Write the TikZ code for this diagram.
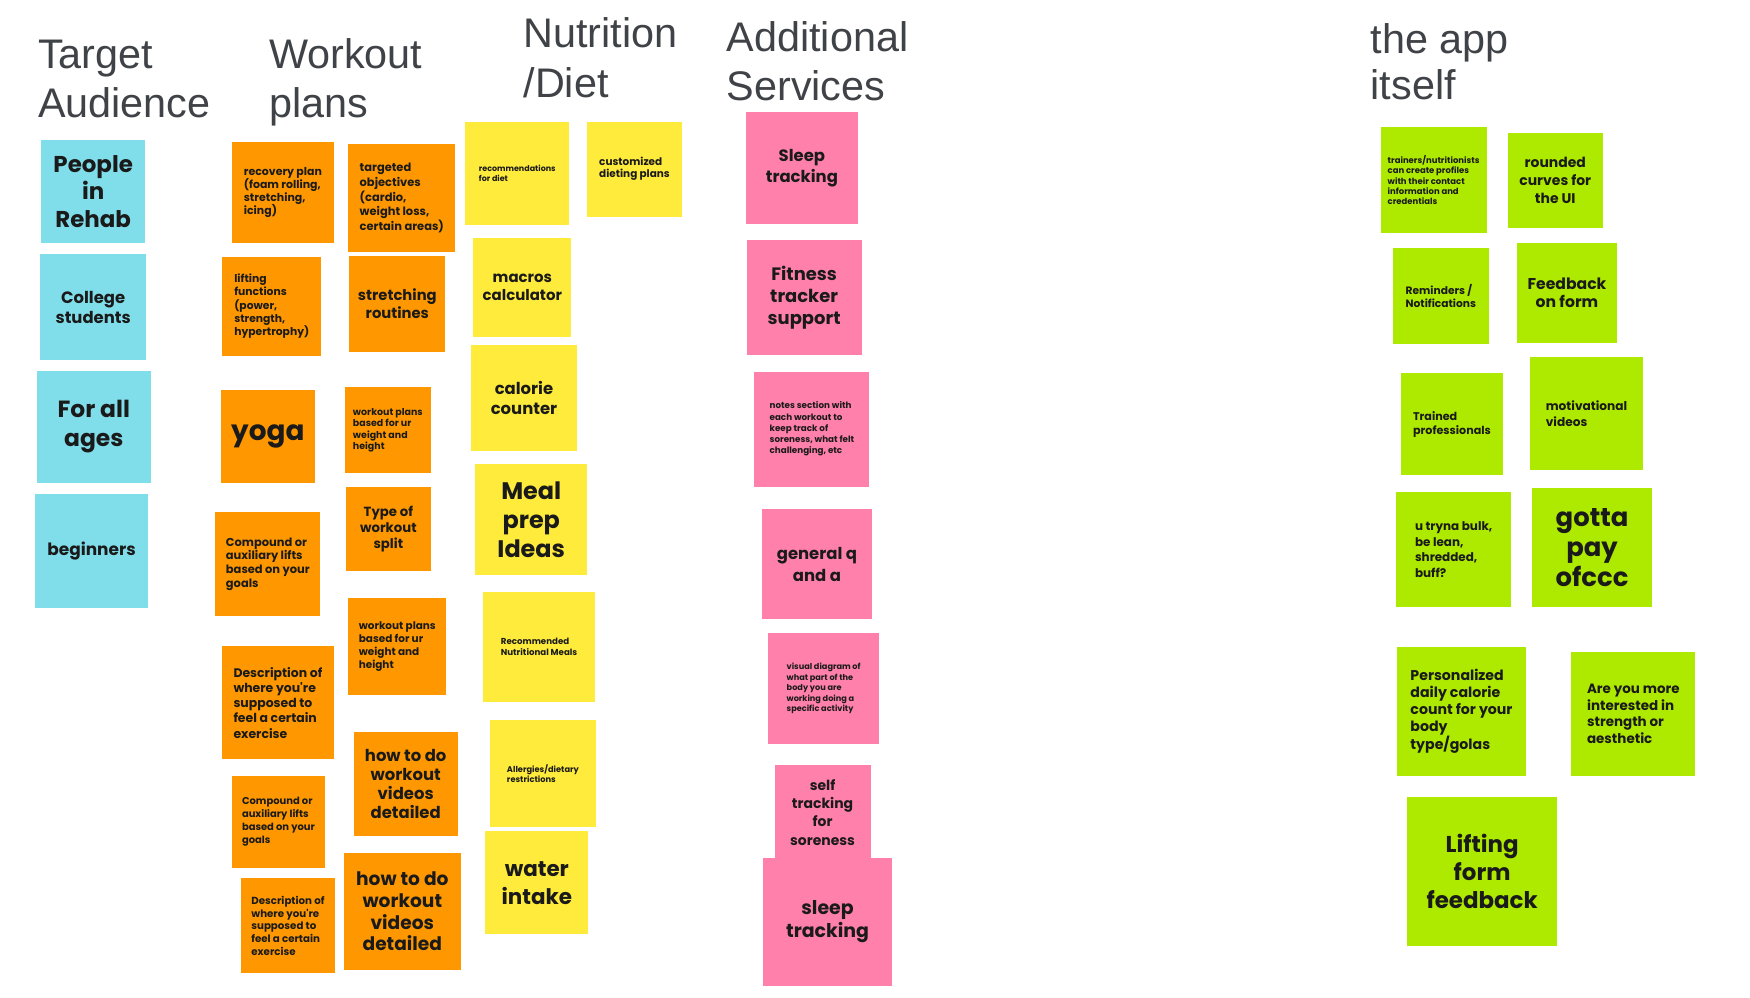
\documentclass[tikz,border=0pt]{standalone}
\usepackage{fontspec}
\setmainfont{Liberation Sans}
\newfontfamily\stf{Poppins}
\usetikzlibrary{fit}
\definecolor{cy}{HTML}{80DEEA}
\definecolor{orn}{HTML}{FF9800}
\definecolor{yel}{HTML}{FFEB3B}
\definecolor{pnk}{HTML}{FF80AB}
\definecolor{lim}{HTML}{AEEA00}
\definecolor{hdr}{HTML}{3F4246}
\definecolor{txt}{HTML}{1A1A1A}
\tikzset{
  stk/.style={inner sep=0pt, outer sep=0pt},
  stktxt/.style={inner sep=0pt, outer sep=0pt, text=txt, anchor=center},
  hd/.style={anchor=base west, inner sep=0pt, text=hdr, font=\fontsize{41.5}{48}\selectfont}
}
\newcommand\stk[8]{%
  \node[stk,fill=#2,fit={(#3) (#4)}] (#1) {};
  \node[stktxt,font={\stf\bfseries\fontsize{#5}{#6}\selectfont},align=#7] (#1-t) at (#1.center) {#8};}
\begin{document}
\begin{tikzpicture}[x=1.11607bp,y=-1.11607bp]
\useasboundingbox (0,0) rectangle (1568,894);
\fill[white] (0,0) rectangle (1568,894);
% headers
\node[hd] (hA1) at (34,61) {Target};
\node[hd] (hA2) at (34,105) {Audience};
\node[hd] (hW1) at (241,61) {Workout};
\node[hd] (hW2) at (241,105) {plans};
\node[hd] (hN1) at (469,43) {Nutrition};
\node[hd] (hN2) at (469,87) {/Diet};
\node[hd] (hS1) at (651,46) {Additional};
\node[hd] (hS2) at (651,90) {Services};
\node[hd] (hT1) at (1228,47.5) {the app};
\node[hd] (hT2) at (1228,89.5) {itself};
% target audience
\stk{aP}{cy}{37,125}{130,218}{23}{27.5}{center}{People\\in\\Rehab}
\stk{aC}{cy}{36,228}{131,323}{16.5}{20}{center}{College\\students}
\stk{aF}{cy}{33,332}{135,433}{23.5}{29}{center}{For all\\ages}
\stk{aB}{cy}{31,443}{133,545}{17}{20}{center}{beginners}
% workout plans
\stk{w1}{orn}{208,127}{299,218}{11}{13.3}{left}{recovery plan\\(foam rolling,\\stretching,\\icing)}
\stk{w2}{orn}{312,129}{408,226}{11.5}{14.7}{left}{targeted\\objectives\\(cardio,\\weight loss,\\certain areas)}
\stk{w3}{orn}{199,230}{288,319}{10.8}{13.3}{left}{lifting\\functions\\(power,\\strength,\\hypertrophy)}
\stk{w4}{orn}{313,229}{399,315}{14.8}{18}{center}{stretching\\routines}
\stk{w5}{orn}{198,349}{282,433}{28}{32}{center}{yoga}
\stk{w6}{orn}{309,347}{386,424}{9.5}{11.4}{left}{workout plans\\based for ur\\weight and\\height}
\stk{w7}{orn}{310,436}{386,512}{13.3}{16}{center}{Type of\\workout\\split}
\stk{w8}{orn}{193,459}{287,552}{11.5}{13.8}{left}{Compound or\\auxiliary lifts\\based on your\\goals}
\stk{w9}{orn}{312,536}{400,623}{10.5}{13}{left}{workout plans\\based for ur\\weight and\\height}
\stk{w10}{orn}{199,579}{299,680}{12.5}{15.3}{left}{Description of\\where you're\\supposed to\\feel a certain\\exercise}
\stk{w11}{orn}{317,656}{410,749}{16.5}{19.3}{center}{how to do\\workout\\videos\\detailed}
\stk{w12}{orn}{208,695}{291,778}{10}{13}{left}{Compound or\\auxiliary lifts\\based on your\\goals}
\stk{w13}{orn}{308,764}{413,869}{18.7}{22}{center}{how to do\\workout\\videos\\detailed}
\stk{w14}{orn}{216,787}{300,872}{10.3}{12.8}{left}{Description of\\where you're\\supposed to\\feel a certain\\exercise}
% nutrition
\stk{n1}{yel}{417,109}{510,202}{8}{10}{left}{recommendations\\for diet}
\stk{n2}{yel}{526,109}{611,194}{10.5}{12.3}{left}{customized\\dieting plans}
\stk{n3}{yel}{424,213}{512,302}{15}{18.5}{center}{macros\\calculator}
\stk{n4}{yel}{422,309}{517,404}{16.5}{20}{center}{calorie\\counter}
\stk{n5}{yel}{426,416}{526,515}{24}{29}{center}{Meal\\prep\\Ideas}
\stk{n6}{yel}{433,530}{533,629}{8.7}{11}{left}{Recommended\\Nutritional Meals}
\stk{n7}{yel}{439,645}{534,741}{8.3}{10}{left}{Allergies/dietary\\restrictions}
\stk{n8}{yel}{435,745}{527,837}{21.5}{28}{center}{water\\intake}
% additional services
\stk{s1}{pnk}{668,100}{769,201}{16.5}{21}{center}{Sleep\\tracking}
\stk{s2}{pnk}{669,215}{772,318}{18}{22}{center}{Fitness\\tracker\\support}
\stk{s3}{pnk}{676,333}{779,436}{8.8}{11.3}{left}{notes section with\\each workout to\\keep track of\\soreness, what felt\\challenging, etc}
\stk{s4}{pnk}{683,456}{781,555}{16.5}{22}{center}{general q\\and a}
\stk{s5}{pnk}{688,567}{788,667}{8.2}{10.5}{left}{visual diagram of\\what part of the\\body you are\\working doing a\\specific activity}
\stk{s6}{pnk}{694,685}{780,771}{14}{18.2}{center}{self\\tracking\\for\\soreness}
\stk{s7}{pnk}{684,769}{799,883}{19}{23.4}{center}{sleep\\tracking}
% the app itself
\stk{g1}{lim}{1237,114}{1332,209}{8.5}{10.4}{left}{trainers/nutritionists\\can create profiles\\with their contact\\information and\\credentials}
\stk{g2}{lim}{1351,119}{1436,204}{14}{17.8}{center}{rounded\\curves for\\the UI}
\stk{g3}{lim}{1248,222}{1334,308}{10.7}{13}{left}{Reminders /\\Notifications}
\stk{g4}{lim}{1359,218}{1449,307}{15.7}{18}{center}{Feedback\\on form}
\stk{g5}{lim}{1255,334}{1347,426}{11.2}{14}{left}{Trained\\professionals}
\stk{g6}{lim}{1371,320}{1472,421}{12.2}{15.5}{left}{motivational\\videos}
\stk{g7}{lim}{1251,441}{1354,544}{12}{15.5}{left}{u tryna bulk,\\be lean,\\shredded,\\buff?}
\stk{g8}{lim}{1373,437}{1480,544}{26}{30}{center}{gotta\\pay\\ofccc}
\stk{g9}{lim}{1252,580}{1367,695}{14.2}{17}{left}{Personalized\\daily calorie\\count for your\\body\\type/golas}
\stk{g10}{lim}{1408,584}{1519,695}{13.5}{16.5}{left}{Are you more\\interested in\\strength or\\aesthetic}
\stk{g11}{lim}{1261,714}{1395,848}{23}{28}{center}{Lifting\\form\\feedback}
\end{tikzpicture}
\end{document}
